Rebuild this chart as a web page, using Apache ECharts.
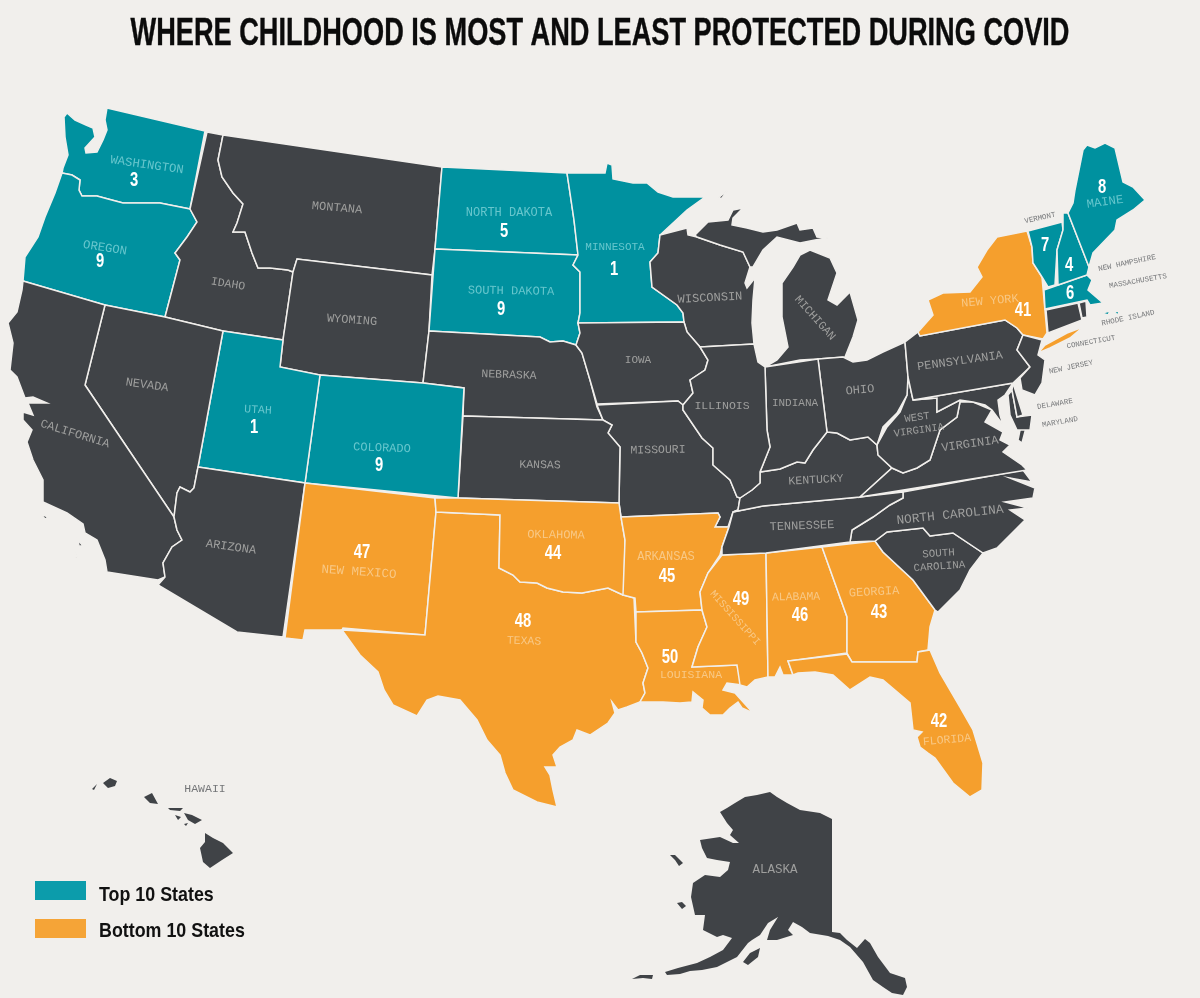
<!DOCTYPE html>
<html>
<head>
<meta charset="utf-8">
<title>Where childhood is most and least protected during COVID</title>
<script src="https://cdn.jsdelivr.net/npm/echarts@6/dist/echarts.min.js"></script>
<style>
  html, body { margin: 0; padding: 0; background: #f1efec; }
  #chart { width: 1200px; height: 998px; }
</style>
</head>
<body>
<div id="chart"></div>
<script>
const titleText = 'WHERE CHILDHOOD IS MOST AND LEAST PROTECTED DURING COVID';
const legendNames = ['Top 10 States', 'Bottom 10 States'];

// groups
const topStates = ['Washington', 'Oregon', 'Utah', 'Colorado', 'North Dakota', 'South Dakota', 'Minnesota', 'Maine', 'Vermont', 'New Hampshire', 'Massachusetts'];
const bottomStates = ['New York', 'New Mexico', 'Texas', 'Oklahoma', 'Arkansas', 'Louisiana', 'Mississippi', 'Alabama', 'Georgia', 'Florida'];

// rank numbers printed on the map
const rankValues = [3, 9, 1, 9, 5, 9, 1, 8, 7, 4, 6, 41, 47, 48, 44, 45, 50, 49, 46, 43, 42];
const rankAnchors = [[134,180],[100,261],[254,427],[379,465],[504,231],[501,309],[614,269],[1102,187],[1045,245],[1069,265],[1070,293],[1023,310],[362,552],[523,621],[553,553],[667,576],[670,657],[741,599],[800,615],[879,612],[939,721]];

// state outlines (x,y in map units)
const outlines = {
  Washington: ['107,108 205,131 190,209 160,203 123,203 108,199 97,196 82,196 79,190 80,180 72,175 62,173 63,168 68,155 65,137 64,117 67,113 75,120 86,125 93,128 95,137 85,148 86,153 97,152 103,140 107,130 105,120'],
  Oregon: ['62,173 72,175 80,180 79,190 82,196 97,196 108,199 123,203 160,203 190,209 197,222 187,237 175,253 180,260 165,317 105,305 23,281 25,257 38,237 45,217 55,193'],
  Idaho: ['207,132 223,135 218,160 222,177 233,193 243,204 237,223 233,232 245,232 252,253 258,268 270,268 288,270 293,272 283,340 223,331 165,317 180,260 175,253 187,237 197,222 190,209'],
  Montana: ['223,135 442,167 435,249 432,275 297,259 293,272 288,270 270,268 258,268 252,253 245,232 233,232 237,223 243,204 233,193 222,177 218,160'],
  Wyoming: ['297,259 432,275 429,331 423,383 320,375 280,367 283,340 293,272'],
  'North Dakota': ['442,167 567,173 570,193 574,220 578,255 435,249'],
  'South Dakota': ['435,249 578,255 573,265 580,272 580,313 578,323 580,333 576,345 563,341 550,342 540,337 429,331'],
  Nebraska: ['429,331 540,337 550,342 563,341 576,345 582,353 590,380 597,407 603,420 463,416 464,388 423,383'],
  Minnesota: ['567,173 605,173 607,163 612,165 613,179 633,183 647,183 658,192 673,197 705,197 687,210 660,235 658,253 650,262 652,287 677,305 683,313 684,322 578,323 580,313 580,272 573,265 578,255 574,220 570,193'],
  Wisconsin: ['660,235 687,228 688,235 697,237 720,245 743,252 750,267 745,283 747,288 755,278 753,300 752,323 754,344 700,347 687,332 684,322 683,313 677,305 652,287 650,262 658,253'],
  Michigan: ['695,235 702,228 708,222 728,220 733,210 743,208 733,218 732,225 747,228 763,232 777,230 797,223 800,230 813,228 817,237 828,238 815,240 800,243 777,237 763,250 753,267 750,267 743,252 720,245 697,237',
    '800,255 810,250 830,258 837,273 828,300 837,305 850,292 858,320 853,337 845,357 818,359 800,360 765,367 777,360 788,347 782,317 782,283 793,267',
    '717,199 728,190 722,198'],
  Iowa: ['578,323 684,322 687,332 700,347 708,360 705,370 690,380 693,393 683,405 678,401 597,404 590,380 582,353 576,345 580,333'],
  Missouri: ['597,405 678,401 683,405 683,410 702,438 713,448 713,465 730,480 737,497 740,498 738,510 733,512 728,527 715,527 720,517 718,513 621,517 619,503 620,447 608,433 612,425 603,420'],
  Kansas: ['463,416 603,420 612,425 608,433 620,447 619,503 458,498'],
  Colorado: ['320,375 423,383 464,388 458,498 305,483'],
  Utah: ['223,331 283,340 280,367 320,375 305,483 198,467'],
  Nevada: ['105,305 165,317 223,331 198,467 194,488 190,492 180,487 177,493 174,517 85,385'],
  California: ['23,281 105,305 85,385 174,517 177,530 182,540 172,547 163,563 165,577 158,580 107,572 105,560 97,540 85,533 83,524 67,513 43,502 43,480 33,460 27,442 32,430 23,420 23,412 33,415 28,403 47,403 33,397 25,398 17,377 10,370 13,343 8,323 17,312 22,290',
    '41,514 48,517 45,519', '78,540 83,546 79,546', '75,552 78,558 76,558'],
  Arizona: ['198,467 305,483 283,637 237,632 158,585 165,577 163,563 172,547 182,540 177,530 174,517 177,493 180,487 190,492 194,488'],
  'New Mexico': ['305,483 435,498 436,512 425,635 343,628 342,630 305,630 303,640 285,638'],
  Texas: ['436,512 500,515 499,568 513,575 520,582 537,583 547,588 563,592 582,593 608,588 623,595 634,598 636,642 642,653 648,668 643,683 645,693 640,702 627,707 618,710 612,702 615,713 608,723 590,735 577,730 573,740 560,747 553,755 557,767 545,767 550,775 553,790 557,807 537,802 513,790 505,773 500,755 487,740 477,720 460,700 438,696 427,700 417,716 393,705 384,690 378,672 360,655 342,630 425,635'],
  Oklahoma: ['435,498 458,498 619,503 621,517 625,540 624,593 623,595 608,588 582,593 563,592 547,588 537,583 520,582 513,575 499,568 500,515 436,512'],
  Arkansas: ['621,517 718,513 720,517 715,527 729,527 722,547 720,555 708,573 700,592 702,610 636,612 635,598 623,595 625,540'],
  Louisiana: ['636,612 702,610 707,627 698,647 692,667 737,665 742,685 727,683 723,690 735,693 753,713 742,708 738,702 730,708 723,715 710,715 702,708 703,700 693,692 692,702 680,703 663,702 640,702 645,693 643,683 648,668 642,653 636,642'],
  Mississippi: ['722,555 766,553 768,677 755,680 747,687 740,685 737,665 692,667 698,647 707,627 702,610 700,592 708,573'],
  Alabama: ['766,553 822,547 847,617 847,653 788,661 793,675 783,675 780,667 775,677 768,677'],
  Georgia: ['822,547 875,541 883,552 913,580 935,610 930,627 928,650 918,652 917,662 852,662 847,653 847,617'],
  Florida: ['788,661 847,654 852,662 917,662 918,652 930,650 940,673 960,707 973,730 983,763 982,790 970,797 953,783 935,758 928,753 920,747 917,737 922,732 913,730 910,703 883,680 870,677 850,690 833,675 815,672 798,673 793,675'],
  'South Carolina': ['875,541 887,532 923,528 930,536 953,533 983,553 970,570 960,590 938,612 935,610 913,580 883,552'],
  'North Carolina': ['850,542 852,530 873,517 890,505 903,498 903,492 1023,470 1032,482 1010,478 1035,488 1033,498 1005,502 1028,508 1010,510 1025,520 1010,535 997,548 983,553 953,533 930,536 923,528 887,532 875,541'],
  Tennessee: ['733,512 763,506 860,497 903,492 903,498 890,505 873,517 852,530 850,542 766,553 722,555 722,547 729,527'],
  Kentucky: ['740,498 752,490 760,483 760,472 780,469 797,462 805,463 813,450 827,432 837,433 850,440 868,437 877,445 878,455 892,468 860,497 763,506 733,512 738,510'],
  Virginia: ['860,497 892,468 903,473 917,468 930,460 940,430 957,417 960,402 973,402 992,410 985,422 1003,432 1000,440 1010,445 1003,452 1022,465 1027,470',
    '1028,420 1022,443 1018,440 1022,420'],
  'West Virginia': ['877,445 887,427 900,412 907,395 908,377 913,400 937,398 937,412 960,400 960,402 957,417 940,430 930,460 917,468 903,473 892,468 878,455'],
  Maryland: ['913,400 1013,383 1005,395 998,400 1000,415 1003,425 992,410 985,405 973,402 960,400 937,412 937,398',
    '1012,390 1017,417 1032,415 1030,430 1017,430 1010,415 1008,395'],
  Delaware: ['1013,383 1023,415 1017,417 1012,390'],
  Ohio: ['818,359 843,357 853,362 867,360 883,352 905,342 908,377 907,395 897,413 883,427 877,445 868,437 850,440 837,433 827,432'],
  Indiana: ['765,367 818,359 827,432 813,450 805,463 797,462 780,469 760,472 762,467 770,447 767,430'],
  Illinois: ['700,347 754,344 758,362 765,367 767,430 770,447 762,467 760,472 760,483 752,490 740,498 737,497 730,480 713,465 713,448 702,438 683,410 683,405 693,393 690,380 705,370 708,360'],
  Pennsylvania: ['905,342 918,332 920,336 1005,320 1017,328 1023,335 1017,350 1030,367 1013,383 913,400 908,377'],
  'New York': ['918,332 933,315 928,300 943,293 970,292 982,277 977,267 987,250 997,237 1027,231 1032,247 1033,263 1042,277 1047,333 1043,339 1023,335 1017,328 1005,320 920,336',
    '1038,353 1045,345 1067,333 1083,327 1070,338 1050,348'],
  'New Jersey': ['1023,335 1042,340 1038,355 1045,360 1042,383 1035,395 1022,390 1020,378 1030,367 1017,350'],
  Connecticut: ['1046,310 1078,303 1082,320 1048,333'],
  'Rhode Island': ['1079,303 1086,301 1087,317 1082,318'],
  Massachusetts: ['1044,290 1087,275 1092,280 1088,290 1103,303 1090,305 1087,300 1045,309',
    '1102,313 1110,311 1108,315', '1114,312 1119,311 1118,315'],
  Vermont: ['1028,231 1062,222 1063,230 1057,250 1055,285 1048,287 1042,277 1033,263 1032,247'],
  'New Hampshire': ['1063,213 1068,213 1089,267 1087,275 1058,285 1057,250 1063,230'],
  Maine: ['1068,213 1073,203 1075,190 1083,150 1087,145 1095,148 1105,143 1115,148 1123,182 1133,187 1145,200 1133,210 1117,220 1115,230 1093,253 1089,267'],
  Alaska: ['720,812 727,808 735,803 745,797 757,795 770,792 777,797 787,803 800,810 820,813 832,819 832,932 840,933 847,940 857,948 865,939 870,943 878,957 890,973 905,978 907,987 903,995 892,993 883,987 873,980 863,962 850,947 840,940 828,936 810,933 802,927 793,922 788,930 793,935 777,940 767,940 770,930 778,917 768,923 760,935 752,940 748,943 737,957 717,967 702,970 690,971 680,974 667,975 665,972 678,968 697,963 710,957 723,950 732,938 723,935 717,937 703,930 705,915 695,915 691,897 693,883 705,875 720,877 728,870 730,862 717,860 707,858 702,848 700,840 720,837 733,843 739,843 730,835 733,830 727,823',
    '632,979 640,975 653,975 652,979 643,978', '743,962 750,953 760,948 758,957 748,965', '670,855 675,855 683,863 679,866 675,860', '677,903 682,902 686,906 682,909'],
  Hawaii: ['205,833 213,838 223,843 233,853 222,860 210,868 203,862 200,848 205,842', '184,813 192,815 202,820 195,824 188,820', '168,808 183,808 180,811 170,810', '175,815 181,817 178,820', '184,824 188,823 186,826', '144,797 152,793 158,804 150,803', '103,783 110,778 117,781 115,786 108,788', '92,789 97,784 94,790']
};
// these sit apart, no border needed and it would eat the small islands
const borderless = ['Alaska', 'Hawaii'];

// state names: text, anchor, tilt, size
const nameTexts = ['WASHINGTON', 'OREGON', 'IDAHO', 'MONTANA', 'WYOMING', 'NEVADA', 'UTAH', 'COLORADO', 'CALIFORNIA', 'ARIZONA', 'NEW MEXICO', 'TEXAS', 'OKLAHOMA', 'ARKANSAS', 'LOUISIANA', 'MISSISSIPPI', 'ALABAMA', 'GEORGIA', 'FLORIDA', 'SOUTH\nCAROLINA', 'NORTH CAROLINA', 'TENNESSEE', 'KENTUCKY', 'VIRGINIA', 'WEST\nVIRGINIA', 'ILLINOIS', 'INDIANA', 'OHIO', 'PENNSYLVANIA', 'MICHIGAN', 'WISCONSIN', 'IOWA', 'MISSOURI', 'KANSAS', 'NEBRASKA', 'SOUTH DAKOTA', 'NORTH DAKOTA', 'MINNESOTA', 'NEW YORK', 'MAINE', 'ALASKA', 'HAWAII'];
const nameAnchors = [[147,165],[105,248],[228,284],[337,208],[352,320],[147,385],[258,410],[382,448],[75,434],[231,547],[359,572],[524,641],[556,535],[666,557],[691,675],[735,618],[796,597],[874,592],[947,740],[939,560],[950,515],[802,526],[816,480],[970,444],[918,424],[722,406],[795,403],[860,390],[960,361],[815,318],[710,298],[638,360],[658,450],[540,465],[509,375],[511,291],[509,213],[615,247],[990,301],[1105,202],[775,870],[205,789]];
const nameTilts = [-8,-9,-9,-5,-4,-8,-3,-2,-17,-8,-4,-2,-1,0,0,-48,1,3,5,4,6,2,3,8,8,0,0,5,8,-48,3,0,1,-1,-2,-1,0,0,5,8,0,0];
const nameSizes = [12.3,12.3,11.5,12,12,12,11.5,12,12,12,12.5,11.5,12,12,11.5,10.5,11.5,12,11.5,10.8,12.8,12,11.5,12,10.5,11.5,11,12,12,11.5,12,11,11.5,11.5,11.5,12,12,11,12,12.3,12.5,11.5];
const nameColors = ['#7fd3d8','#7fd3d8','#b5b5b3','#b5b5b3','#b5b5b3','#b5b5b3','#7fd3d8','#7fd3d8','#b5b5b3','#b5b5b3','#f9d29b','#f9d29b','#f9d29b','#f9d29b','#f9d29b','#f9d29b','#f9d29b','#f9d29b','#f9d29b','#b5b5b3','#b5b5b3','#b5b5b3','#b5b5b3','#b5b5b3','#b5b5b3','#b5b5b3','#b5b5b3','#b5b5b3','#b5b5b3','#b5b5b3','#b5b5b3','#b5b5b3','#b5b5b3','#b5b5b3','#b5b5b3','#7fd3d8','#7fd3d8','#7fd3d8','#f9d29b','#7fd3d8','#b5b5b3','#55585b'];

// tiny names sitting outside the northeast
const smallTexts = ['VERMONT', 'NEW HAMPSHIRE', 'MASSACHUSETTS', 'RHODE ISLAND', 'CONNECTICUT', 'NEW JERSEY', 'DELAWARE', 'MARYLAND'];
const smallAnchors = [[1040,218],[1127,263],[1138,281],[1128,318],[1091,342],[1071,367],[1055,404],[1060,422]];
const smallTilts = [12,12,10,12,10,12,10,10];

const teal = '#00919f';
const orange = '#f59f2d';
const dark = '#404347';
const paper = '#f1efec';
const heavy = '"Liberation Sans", Arial, sans-serif';
const typewriter = '"Liberation Mono", "DejaVu Sans Mono", monospace';

function ring(text) {
  return text.split(' ').map(function (p) { return p.split(',').map(Number); });
}

const usa = {
  type: 'FeatureCollection',
  features: Object.keys(outlines).map(function (name) {
    return {
      type: 'Feature',
      properties: { name: name },
      geometry: { type: 'MultiPolygon', coordinates: outlines[name].map(function (t) { return [ring(t)]; }) }
    };
  })
};
echarts.registerMap('usa', usa);

function groupRegion(color) {
  return function (name) { return { name: name, itemStyle: { areaColor: color } }; };
}

const myChart = echarts.init(document.getElementById('chart'));
myChart.setOption({
  backgroundColor: paper,
  animation: false,
  graphic: [
    { type: 'text', x: 600, y: 35, scaleX: 0.715, style: { text: titleText, font: 'bold 38px ' + heavy, fill: '#0b0b0b', stroke: '#0b0b0b', lineWidth: 0.4, align: 'center', verticalAlign: 'middle' } },
    { type: 'rect', shape: { x: 35, y: 881, width: 51, height: 19 }, style: { fill: '#0c9cab' } },
    { type: 'rect', shape: { x: 35, y: 919, width: 51, height: 19 }, style: { fill: '#f5a437' } },
    { type: 'text', x: 99, y: 895, scaleX: 0.85, style: { text: legendNames[0], font: 'bold 21px ' + heavy, fill: '#111', align: 'left', verticalAlign: 'middle' } },
    { type: 'text', x: 99, y: 931, scaleX: 0.85, style: { text: legendNames[1], font: 'bold 21px ' + heavy, fill: '#111', align: 'left', verticalAlign: 'middle' } }
  ],
  geo: {
    map: 'usa',
    silent: true,
    roam: false,
    projection: {
      project: function (p) { return [p[0], p[1]]; },
      unproject: function (p) { return [p[0], p[1]]; }
    },
    boundingCoords: [[0, 0], [1200, 998]],
    left: 0,
    top: 0,
    width: 1200,
    height: 998,
    itemStyle: { areaColor: dark, borderColor: paper, borderWidth: 1.5 },
    label: { show: false },
    regions: topStates.map(groupRegion(teal)).concat(bottomStates.map(groupRegion(orange))).concat(borderless.map(function (name) {
      return { name: name, itemStyle: { borderWidth: 0 } };
    }))
  },
  series: [
    {
      name: 'names',
      type: 'scatter',
      coordinateSystem: 'geo',
      silent: true,
      symbolSize: 0,
      data: nameTexts.map(function (t, i) {
        return {
          name: t,
          value: nameAnchors[i],
          label: { show: true, position: 'inside', formatter: t, rotate: nameTilts[i], color: nameColors[i], fontFamily: typewriter, fontSize: nameSizes[i], lineHeight: 13 }
        };
      })
    },
    {
      name: 'small names',
      type: 'scatter',
      coordinateSystem: 'geo',
      silent: true,
      symbolSize: 0,
      data: smallTexts.map(function (t, i) {
        return {
          name: t,
          value: smallAnchors[i],
          label: { show: true, position: 'inside', formatter: t, rotate: smallTilts[i], color: '#55585b', fontFamily: typewriter, fontSize: 7.5 }
        };
      })
    },
    {
      // custom so the digits can be squeezed like the condensed original
      name: 'ranks',
      type: 'custom',
      coordinateSystem: 'geo',
      silent: true,
      data: rankValues.map(function (v, i) { return [rankAnchors[i][0], rankAnchors[i][1], v]; }),
      encode: { x: 0, y: 1 },
      renderItem: function (params, api) {
        const pos = api.coord([api.value(0), api.value(1)]);
        return {
          type: 'text',
          x: pos[0],
          y: pos[1],
          scaleX: 0.74,
          style: { text: String(api.value(2)), font: 'bold 20px ' + heavy, fill: '#fff', align: 'center', verticalAlign: 'middle' }
        };
      }
    }
  ]
});
</script>
</body>
</html>
